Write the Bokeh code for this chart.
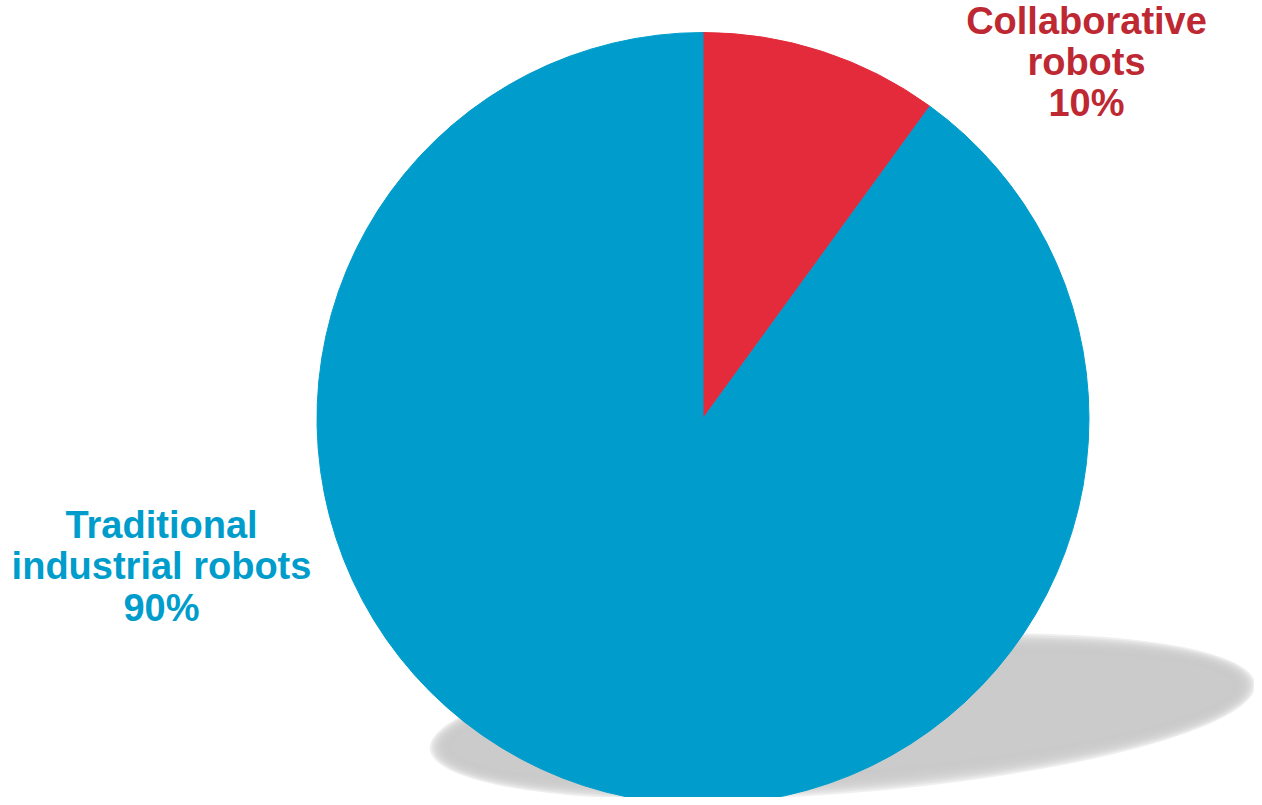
import math
from bokeh.plotting import figure
from bokeh.models import Range1d, ColumnDataSource
from bokeh.core.properties import value
from bokeh.embed import file_html
from bokeh.resources import INLINE

# ---- data ----
categories = ["Collaborative robots", "Traditional industrial robots"]
label_lines = [["Collaborative", "robots"], ["Traditional", "industrial robots"]]
shares = [10, 90]
slice_colors = ["#E32B3B", "#009DCC"]
text_colors = ["#BE2832", "#009DCC"]

# ---- layout (screen-pixel coordinates, y negated) ----
W, H = 1254, 797
cx, cy, R = 702.5, 418, 386
label_pos = [(1086, [20, 61, 102]), (161, [524, 565, 607])]

p = figure(width=W, height=H, output_backend="svg", toolbar_location=None,
           x_range=Range1d(0, W), y_range=Range1d(-H, 0),
           min_border=0, border_fill_color="white", background_fill_color="white")
p.axis.visible = False
p.grid.visible = False
p.outline_line_color = None

# ---- soft shadow (stacked translucent ellipses to imitate blur) ----
sx, sy, sa, sb, sang = 842, 716, 403, 66, math.radians(4.5)
for d in range(11, -12, -2):
    p.ellipse(x=sx, y=-sy, width=2 * (sa + d), height=2 * (sb + d), angle=sang,
              fill_color="#CBCBCB", fill_alpha=0.3, line_color=None)
p.ellipse(x=sx, y=-sy, width=2 * (sa - 11), height=2 * (sb - 11), angle=sang,
          fill_color="#CBCBCB", fill_alpha=1.0, line_color=None)

# ---- pie wedges ----
total = float(sum(shares))
starts, ends = [], []
acc = 0.0
for s in shares:
    a0 = math.pi / 2 - 2 * math.pi * acc / total
    acc += s
    a1 = math.pi / 2 - 2 * math.pi * acc / total
    starts.append(a0)
    ends.append(a1)

src = ColumnDataSource(dict(cat=categories, share=shares, start=starts, end=ends,
                            color=slice_colors))
p.wedge(x=cx, y=-cy, radius=R, start_angle="start", end_angle="end",
        direction="clock", fill_color="color", line_color="color", line_width=1,
        source=src)

# ---- labels ----
for i, (lx, ys) in enumerate(label_pos):
    lines = label_lines[i] + [f"{shares[i]}%"]
    p.text(x=[lx] * len(lines), y=[-y for y in ys], text=lines,
           text_font=value("Liberation Sans"), text_font_style="bold",
           text_font_size="38px", text_color=text_colors[i],
           text_align="center", text_baseline="alphabetic")

open("out.html", "w").write(file_html(p, INLINE))
